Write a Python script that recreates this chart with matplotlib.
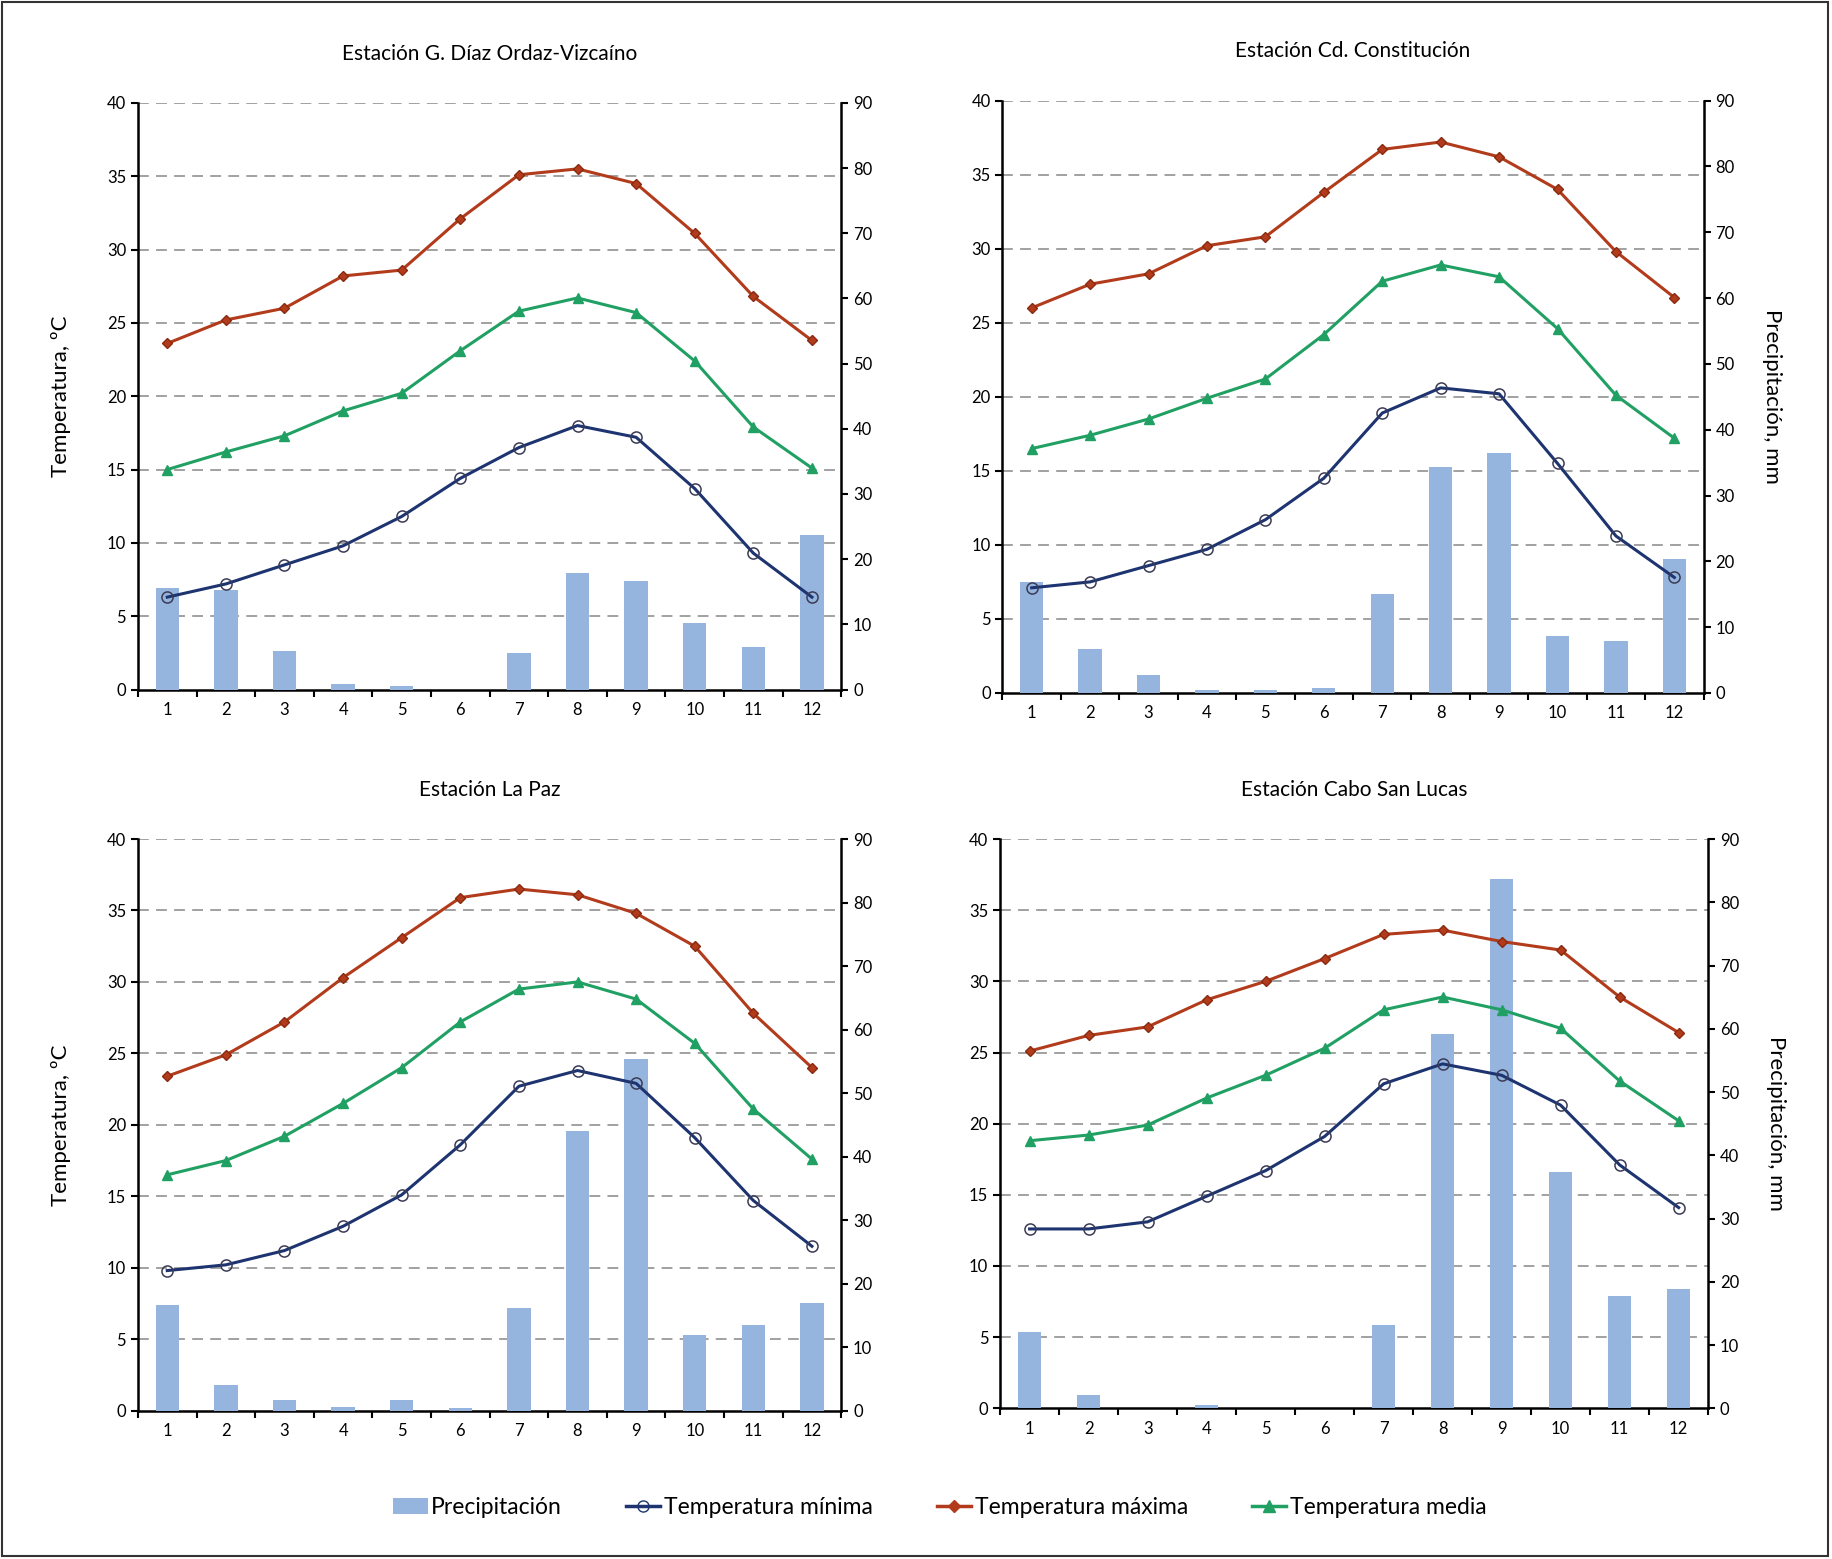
import matplotlib
matplotlib.use("Agg")
import matplotlib.pyplot as plt
from matplotlib.lines import Line2D
from matplotlib.patches import Patch, Rectangle
import numpy as np

plt.rcParams["font.family"] = ["Lato", "DejaVu Sans"]

# ── Datos ──
months = list(range(1, 13))

titles = ["Estación G. Díaz Ordaz-Vizcaíno", "Estación Cd. Constitución",
          "Estación La Paz", "Estación Cabo San Lucas"]

# G. Díaz Ordaz-Vizcaíno
diaz_max = [23.6, 25.2, 26.0, 28.2, 28.6, 32.1, 35.1, 35.5, 34.5, 31.1, 26.8, 23.8]
diaz_med = [15.0, 16.2, 17.3, 19.0, 20.2, 23.1, 25.8, 26.7, 25.7, 22.4, 17.9, 15.1]
diaz_min = [6.3, 7.2, 8.5, 9.8, 11.8, 14.4, 16.5, 18.0, 17.2, 13.7, 9.3, 6.3]
diaz_pp = [15.6, 15.2, 5.9, 0.8, 0.5, 0.0, 5.6, 17.9, 16.6, 10.2, 6.6, 23.7]

# Cd. Constitución
const_max = [26.0, 27.6, 28.3, 30.2, 30.8, 33.8, 36.7, 37.2, 36.2, 34.0, 29.8, 26.7]
const_med = [16.5, 17.4, 18.5, 19.9, 21.2, 24.2, 27.8, 28.9, 28.1, 24.6, 20.1, 17.2]
const_min = [7.1, 7.5, 8.6, 9.7, 11.7, 14.5, 18.9, 20.6, 20.2, 15.5, 10.6, 7.8]
const_pp = [16.8, 6.7, 2.8, 0.4, 0.4, 0.8, 15.1, 34.4, 36.5, 8.6, 7.9, 20.4]

# La Paz
paz_max = [23.4, 24.9, 27.2, 30.3, 33.1, 35.9, 36.5, 36.1, 34.8, 32.5, 27.8, 24.0]
paz_med = [16.5, 17.5, 19.2, 21.5, 24.0, 27.2, 29.5, 30.0, 28.8, 25.7, 21.1, 17.6]
paz_min = [9.8, 10.2, 11.2, 12.9, 15.1, 18.6, 22.7, 23.8, 22.9, 19.1, 14.7, 11.5]
paz_pp = [16.6, 4.1, 1.6, 0.5, 1.6, 0.4, 16.2, 44.1, 55.4, 11.9, 13.4, 17.0]

# Cabo San Lucas
cabo_max = [25.1, 26.2, 26.8, 28.7, 30.0, 31.6, 33.3, 33.6, 32.8, 32.2, 28.9, 26.4]
cabo_med = [18.8, 19.2, 19.9, 21.8, 23.4, 25.3, 28.0, 28.9, 28.0, 26.7, 23.0, 20.2]
cabo_min = [12.6, 12.6, 13.1, 14.9, 16.7, 19.1, 22.8, 24.2, 23.4, 21.3, 17.1, 14.1]
cabo_pp = [12.1, 2.1, 0.0, 0.5, 0.0, 0.0, 13.1, 59.2, 83.7, 37.3, 17.7, 18.9]

# ── Estilo ──
C_PP = "#95b5df"
C_MAX = "#b23b1b"
C_MED = "#21a063"
C_MIN = "#1d3470"

# posiciones de los paneles [left, bottom, width, height]
POS = [
    [0.0753, 0.5577, 0.3839, 0.3763],
    [0.5472, 0.5555, 0.3827, 0.3800],
    [0.0753, 0.0952, 0.3839, 0.3666],
    [0.5459, 0.0967, 0.3865, 0.3651],
]


def panel(fig, pos, title, tmax, tmed, tmin, pp, left_label, right_label):
    ax = fig.add_axes(pos)
    ax.set_xlim(0.5, 12.5)
    ax.set_ylim(0, 40)
    ax.set_yticks(np.arange(0, 41, 5))
    for y in np.arange(5, 41, 5):
        ax.axhline(y, color="#9a9a9a", lw=1.3, ls=(0, (6, 4)), zorder=0)
    ax.set_xticks(months)
    ax.set_xticks(np.arange(0.5, 13, 1), minor=True)
    ax.tick_params(axis="x", which="major", length=0, labelsize=12, pad=9)
    ax.tick_params(axis="x", which="minor", length=5, width=1.5, direction="out")
    ax.tick_params(axis="y", length=5, width=1.5, direction="out", labelsize=12)
    ax.spines["top"].set_visible(False)
    ax.spines["right"].set_visible(False)
    for s in ("left", "bottom"):
        ax.spines[s].set_linewidth(1.8)
    ax.set_title(title, fontsize=15, pad=31)
    if left_label:
        ax.set_ylabel("Temperatura, ºC", fontsize=16, labelpad=26)

    ax2 = ax.twinx()
    ax2.set_ylim(0, 90)
    ax2.set_yticks(np.arange(0, 91, 10))
    ax2.bar(months, pp, width=0.4, color=C_PP, zorder=2)
    ax2.tick_params(axis="y", length=5, width=1.5, direction="out", labelsize=12)
    ax2.spines["top"].set_visible(False)
    ax2.spines["left"].set_visible(False)
    ax2.spines["bottom"].set_visible(False)
    ax2.spines["right"].set_linewidth(1.8)
    if right_label:
        ax2.set_ylabel("Precipitación, mm", fontsize=16, rotation=270, labelpad=34)

    ax3 = ax.twinx()
    ax3.set_ylim(0, 40)
    ax3.set_xlim(0.5, 12.5)
    ax3.axis("off")
    ax3.plot(months, tmax, color=C_MAX, lw=2.2, marker="D", ms=5, mfc=C_MAX, mec="#8a2a10")
    ax3.plot(months, tmed, color=C_MED, lw=2.2, marker="^", ms=7, mfc=C_MED, mec=C_MED)
    ax3.plot(months, tmin, color=C_MIN, lw=2.2, marker="o", ms=8, mfc="none", mec="#3b3b55", mew=1.1)


fig = plt.figure(figsize=(18.32, 15.59), dpi=100)

panel(fig, POS[0], titles[0], diaz_max, diaz_med, diaz_min, diaz_pp, True, False)
panel(fig, POS[1], titles[1], const_max, const_med, const_min, const_pp, False, True)
panel(fig, POS[2], titles[2], paz_max, paz_med, paz_min, paz_pp, True, False)
panel(fig, POS[3], titles[3], cabo_max, cabo_med, cabo_min, cabo_pp, False, True)

handles = [
    Patch(facecolor=C_PP, label="Precipitación"),
    Line2D([], [], color=C_MIN, lw=2.5, marker="o", ms=8, mfc="none", mec=C_MIN, label="Temperatura mínima"),
    Line2D([], [], color=C_MAX, lw=2.5, marker="D", ms=6, mfc=C_MAX, label="Temperatura máxima"),
    Line2D([], [], color=C_MED, lw=2.5, marker="^", ms=8, mfc=C_MED, label="Temperatura media"),
]
fig.legend(handles=handles, loc="center", bbox_to_anchor=(0.513, 0.033), ncol=4,
           frameon=False, fontsize=16.5, handlelength=1.5, handletextpad=0.15, columnspacing=2.8)

fig.patches.append(Rectangle((0.001, 0.002), 0.997, 0.997, transform=fig.transFigure,
                             fill=False, edgecolor="#333333", lw=1.5))

fig.savefig("out.png", dpi=100)
